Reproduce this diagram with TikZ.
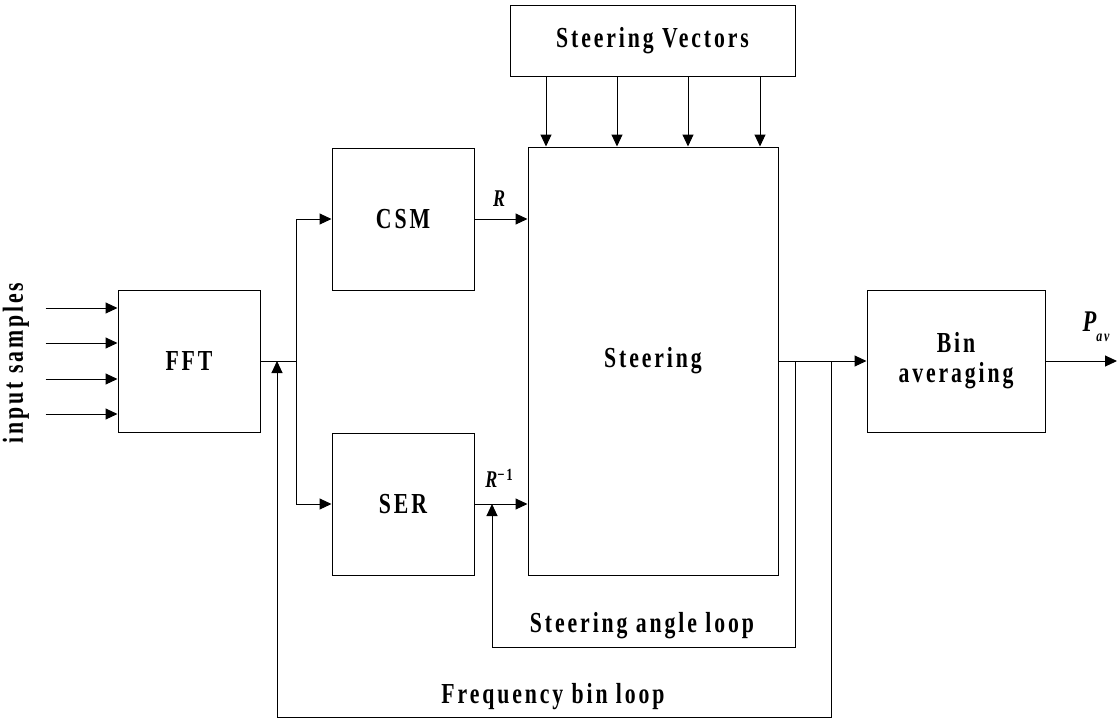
\documentclass[tikz,border=0pt]{standalone}
\usepackage{fontspec}
\setmainfont{Liberation Serif}[FakeStretch=0.75,LetterSpace=10]
\usetikzlibrary{arrows.meta}
\tikzset{
  blk/.style={draw, line width=1pt, inner sep=0pt, align=center,
    font=\bfseries\fontsize{29}{30}\selectfont},
  lbl/.style={font=\bfseries\fontsize{29}{30}\selectfont},
  mlbl/.style={font=\bfseries\itshape\fontsize{24}{25}\selectfont},
}
\begin{document}
\begin{tikzpicture}[x=1pt, y=-1pt, line width=1pt, >={Triangle[length=12pt,width=11pt]}]
	\useasboundingbox (0,0) rectangle (1119,721);
	
	% blocks
	\node[blk, minimum width=142pt, minimum height=142pt] (fft) at (189,361) {FFT};
	\node[blk, minimum width=142pt, minimum height=142pt] (csm) at (403,219) {CSM};
	\node[blk, minimum width=142pt, minimum height=142pt] (ser) at (403,504) {SER};
	\node[blk, minimum width=250pt, minimum height=428pt] (steer) at (653,361) {Steering};
	\node[blk, minimum width=285pt, minimum height=71pt] (vec) at (652.5,40.5) {Steering Vectors};
	\node[blk, minimum width=178pt, minimum height=142pt] (avg) at (956,361) {Bin\\averaging};
	
	% inputs
	\node[lbl, rotate=90] (in) at (16,363) {input samples};
	\foreach \dy in {-53,-18,18,53}
		\draw[->] ([yshift=\dy pt]fft.west) ++(-72,0) -- ([yshift=\dy pt]fft.west);
	
	% steering vectors
	\foreach \x in {546,617,688,760}
		\draw[->] (vec.south -| \x,0) -- (steer.north -| \x,0);
	
	% FFT split to CSM and SER
	\coordinate (split) at (296,361);
	\draw (fft.east) -- (split);
	\draw[->] (split) |- (csm.west);
	\draw[->] (split) |- (ser.west);
	
	% R and R^-1
	\draw[->] (csm.east) -- (csm.east -| steer.west);
	\draw[->] (ser.east) -- (ser.east -| steer.west);
	\node[mlbl] (r) at (499,199) {R};
	\node[mlbl] (rinv) at (499,478) {R\raisebox{7pt}{\upshape\fontsize{17}{18}\selectfont −1}};
	
	% output
	\coordinate (tapA) at (795,361);
	\coordinate (tapB) at (831,361);
	\draw[->] (steer.east) -- (avg.west);
	\coordinate (out) at (1117,361);
	\draw[->] (avg.east) -- (out);
	\node[mlbl, font=\bfseries\itshape\fontsize{30}{31}\selectfont] (pav) at (1096,327) {P\raisebox{-10pt}{\fontsize{16}{17}\selectfont av}};
	
	% steering angle loop
	\coordinate (sa) at (492,647);
	\draw[->] (tapA) |- (sa) -- (sa |- ser.east);
	\node[lbl] (salbl) at (642,626) {Steering angle loop};
	
	% frequency bin loop
	\coordinate (fb) at (277,717);
	\draw[->] (tapB) |- (fb) -- (fb |- fft.east);
	\node[lbl] (fblbl) at (553,697) {Frequency bin loop};
\end{tikzpicture}
\end{document}
